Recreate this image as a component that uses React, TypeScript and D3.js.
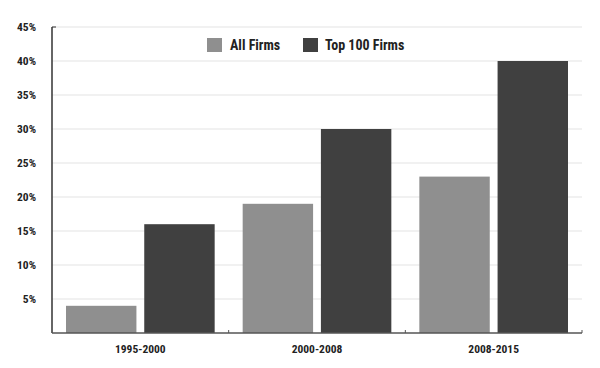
import React from "react";
import * as d3 from "d3";

const categories = ["1995-2000", "2000-2008", "2008-2015"];
const seriesNames = ["All Firms", "Top 100 Firms"];
const allFirms = [4, 19, 23];
const top100 = [16, 30, 40];
const yTicks = [5, 10, 15, 20, 25, 30, 35, 40, 45];
const colors = ["#8f8f8f", "#404040"];

const W = 600, H = 368;
const left = 52, right = 582, top = 27, bottom = 333;
const FONT = "'Liberation Sans Narrow', 'Arial Narrow', 'Roboto Condensed', sans-serif";

export default function App() {
  const x0 = d3.scaleBand<string>().domain(categories).range([left, right]).padding(0);
  const bw = x0.bandwidth();
  const x1 = d3.scaleBand<string>().domain(seriesNames).range([14, bw - 14]).paddingInner(0.1);
  const y = d3.scaleLinear().domain([0, 45]).range([bottom, top]);
  const values = [allFirms, top100];

  return (
    <svg width={W} height={H} style={{ position: "absolute", left: 0, top: 0 }}>
      <rect width={W} height={H} fill="#fff" />
      {yTicks.map((t) => (
        <g key={t}>
          <line x1={left} x2={right} y1={y(t)} y2={y(t)} stroke="#e3e3e3" strokeWidth={1} />
          <text x={36} y={y(t)} dy="0.35em" textAnchor="end" fontFamily={FONT} fontWeight="bold" fontSize={11.5} fill="#222">
            {t}%
          </text>
        </g>
      ))}
      {categories.map((c, i) => (
        <g key={c} transform={`translate(${x0(c)},0)`}>
          {seriesNames.map((s, j) => (
            <rect key={s} x={x1(s)} width={x1.bandwidth()} y={y(values[j][i])} height={y(0) - y(values[j][i])} fill={colors[j]} />
          ))}
          <text x={bw / 2} y={353} textAnchor="middle" fontFamily={FONT} fontWeight="bold" fontSize={11.5} fill="#222">
            {c}
          </text>
        </g>
      ))}
      <line x1={left} x2={left} y1={top} y2={bottom} stroke="#333" strokeWidth={1.5} />
      <line x1={left} x2={left + 4} y1={top} y2={top} stroke="#333" strokeWidth={1} />
      <line x1={left} x2={right} y1={bottom} y2={bottom} stroke="#555" strokeWidth={1.5} />
      {categories.map((c) => (
        <line key={c} x1={x0(c)! + bw} x2={x0(c)! + bw} y1={bottom} y2={bottom - 3} stroke="#555" strokeWidth={1} />
      ))}
      <g>
        <rect x={207} y={38} width={15} height={14} fill={colors[0]} />
        <text x={230} y={50} fontFamily={FONT} fontWeight="bold" fontSize={14} fill="#222">{seriesNames[0]}</text>
        <rect x={303} y={38} width={15} height={14} fill={colors[1]} />
        <text x={325} y={50} fontFamily={FONT} fontWeight="bold" fontSize={14} fill="#222">{seriesNames[1]}</text>
      </g>
    </svg>
  );
}
